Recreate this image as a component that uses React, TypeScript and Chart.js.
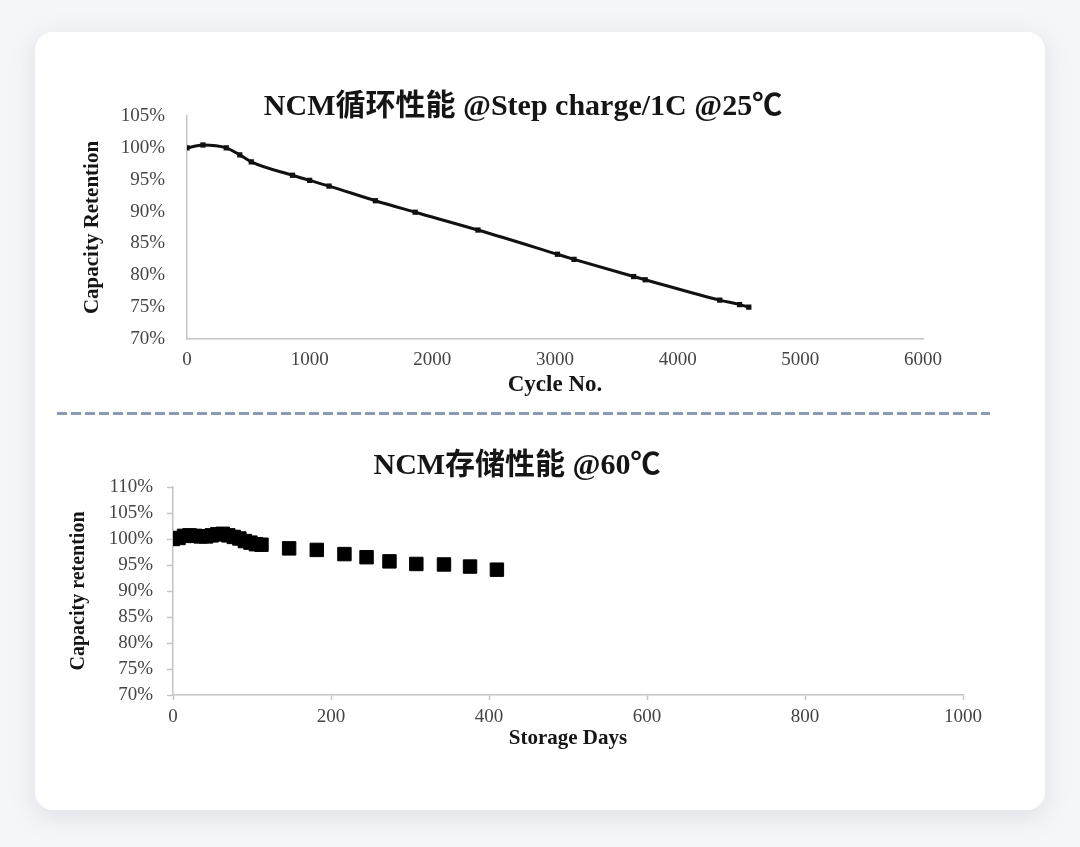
import React, { useEffect, useRef } from "react";
import { Chart, registerables } from "chart.js";

Chart.register(...registerables);

// ---------- data ----------
const cycleTitle = "NCM循环性能 @Step charge/1C @25℃";
const cycleAxisTitle = "Cycle No.";
const cycleYAxisTitle = "Capacity Retention";
const cycleNumbers = [0, 130, 320, 430, 524, 860, 1000, 1158, 1536, 1860, 2372, 3020, 3155, 3641, 3735, 4343, 4505, 4580];
const cycleRetention = [100.0, 100.45, 100.0, 98.9, 97.8, 95.7, 94.9, 94.0, 91.7, 89.9, 87.1, 83.3, 82.5, 79.8, 79.3, 76.1, 75.4, 75.0];

const storageTitle = "NCM存储性能 @60℃";
const storageAxisTitle = "Storage Days";
const storageYAxisTitle = "Capacity retention";
const storageDays = [0, 7, 14, 21, 28, 35, 42, 49, 56, 63, 70, 77, 84, 91, 98, 105, 112, 147, 182, 217, 245, 274, 308, 343, 376, 410];
const storageRetention = [100.0, 100.2, 100.6, 100.7, 100.6, 100.5, 100.5, 100.7, 100.9, 101.0, 100.7, 100.4, 100.1, 99.6, 99.3, 99.0, 98.9, 98.2, 97.9, 97.1, 96.5, 95.7, 95.2, 95.1, 94.7, 94.1];

const FONT = "'Liberation Serif', 'Times New Roman', 'Noto Sans CJK SC', serif";

const fixedTitle = {
  id: "fixedTitle",
  afterDraw(chart: any, _args: any, opts: any) {
    if (!opts || !opts.text) return;
    const ctx = chart.ctx;
    ctx.save();
    ctx.font = `bold ${opts.size}px ${FONT}`;
    ctx.fillStyle = opts.color || "#111";
    ctx.textAlign = "center";
    ctx.textBaseline = "middle";
    ctx.fillText(opts.text, opts.x, opts.y);
    ctx.restore();
  },
};

const plainNumber = (v: any) => String(v);

function CycleChart() {
  const ref = useRef<HTMLCanvasElement | null>(null);
  useEffect(() => {
    if (!ref.current) return;
    const chart = new Chart(ref.current, {
      type: "line",
      data: {
        datasets: [
          {
            data: cycleNumbers.map((c, i) => ({ x: c, y: cycleRetention[i] })),
            borderColor: "#111111",
            backgroundColor: "#111111",
            borderWidth: 3,
            pointRadius: 1.6,
            pointStyle: "rect",
            tension: 0.35,
            cubicInterpolationMode: "monotone",
            fill: false,
          },
        ],
      },
      options: {
        animation: false,
        responsive: false,
        maintainAspectRatio: false,
        layout: { padding: { top: 46, right: 117, bottom: 1, left: 0 } },
        plugins: {
          legend: { display: false },
          tooltip: { enabled: false },
          title: { display: false },
          fixedTitle: { text: cycleTitle, x: 483, y: 37, size: 30, color: "#151515" },
        } as any,
        scales: {
          x: {
            type: "linear",
            min: 0,
            max: 6000,
            afterFit: (s: any) => {
              s.height = 60;
            },
            grid: { display: false, drawTicks: false },
            border: { display: true, color: "#c4c4c4", width: 1.5 },
            ticks: {
              stepSize: 1000,
              padding: 10,
              color: "#444",
              font: { family: FONT, size: 19 },
              callback: plainNumber,
            },
            title: {
              display: true,
              text: cycleAxisTitle,
              color: "#151515",
              font: { family: FONT, size: 23, weight: "bold" },
              padding: { top: 0, bottom: 0 },
            },
          },
          y: {
            type: "linear",
            min: 70,
            max: 105,
            afterFit: (s: any) => {
              s.width = 147;
            },
            grid: { display: false, drawTicks: false },
            border: { display: true, color: "#c4c4c4", width: 1.5 },
            ticks: {
              stepSize: 5,
              padding: 22,
              color: "#444",
              font: { family: FONT, size: 19 },
              callback: (v: any) => `${v}%`,
            },
            title: {
              display: true,
              text: cycleYAxisTitle,
              color: "#151515",
              font: { family: FONT, size: 21, weight: "bold" },
              padding: { top: 40, bottom: 0 },
            },
          },
        },
      },
      plugins: [fixedTitle],
    } as any);
    return () => chart.destroy();
  }, []);
  return (
    <canvas
      ref={ref}
      width={1000}
      height={330}
      style={{ position: "absolute", left: 40, top: 70, width: 1000, height: 330 }}
    />
  );
}

function StorageChart() {
  const ref = useRef<HTMLCanvasElement | null>(null);
  useEffect(() => {
    if (!ref.current) return;
    const chart = new Chart(ref.current, {
      type: "scatter",
      data: {
        datasets: [
          {
            data: storageDays.map((d, i) => ({ x: d, y: storageRetention[i] })),
            borderColor: "#000000",
            backgroundColor: "#000000",
            borderWidth: 1,
            pointRadius: 9.5,
            pointStyle: "rect",
          },
        ],
      },
      options: {
        animation: false,
        responsive: false,
        maintainAspectRatio: false,
        layout: { padding: { top: 57, right: 67, bottom: 19, left: 0 } },
        plugins: {
          legend: { display: false },
          tooltip: { enabled: false },
          title: { display: false },
          fixedTitle: { text: storageTitle, x: 487, y: 36, size: 30, color: "#151515" },
        } as any,
        scales: {
          x: {
            type: "linear",
            min: 0,
            max: 1000,
            afterFit: (s: any) => {
              s.height = 56;
            },
            grid: { display: true, drawOnChartArea: false, drawTicks: true, tickLength: 5, tickColor: "#c4c4c4", tickWidth: 1.5 },
            border: { display: true, color: "#c4c4c4", width: 1.5 },
            ticks: {
              stepSize: 200,
              padding: 6,
              color: "#444",
              font: { family: FONT, size: 19 },
              callback: plainNumber,
            },
            title: {
              display: true,
              text: storageAxisTitle,
              color: "#151515",
              font: { family: FONT, size: 21, weight: "bold" },
              padding: { top: 0, bottom: 0 },
            },
          },
          y: {
            type: "linear",
            min: 70,
            max: 110,
            afterFit: (s: any) => {
              s.width = 143;
            },
            grid: { display: true, drawOnChartArea: false, drawTicks: true, tickLength: 6, tickColor: "#c4c4c4", tickWidth: 1.5 },
            border: { display: true, color: "#c4c4c4", width: 1.5 },
            ticks: {
              stepSize: 5,
              padding: 14,
              color: "#444",
              font: { family: FONT, size: 19 },
              callback: (v: any) => `${v}%`,
            },
            title: {
              display: true,
              text: storageYAxisTitle,
              color: "#151515",
              font: { family: FONT, size: 20, weight: "bold" },
              padding: { top: 37, bottom: 0 },
            },
          },
        },
      },
      plugins: [fixedTitle],
    } as any);
    return () => chart.destroy();
  }, []);
  return (
    <canvas
      ref={ref}
      width={1000}
      height={340}
      style={{ position: "absolute", left: 30, top: 430, width: 1000, height: 340 }}
    />
  );
}

export default function App() {
  return (
    <div
      style={{
        position: "fixed",
        left: 0,
        top: 0,
        width: 1080,
        height: 847,
        background: "#f5f6f8",
        overflow: "hidden",
      }}
    >
      <div
        style={{
          position: "absolute",
          left: 35,
          top: 32,
          width: 1010,
          height: 778,
          background: "#ffffff",
          borderRadius: 18,
          boxShadow: "0 6px 26px rgba(110, 120, 150, 0.18)",
        }}
      />
      <CycleChart />
      <div
        style={{
          position: "absolute",
          left: 57,
          top: 412,
          width: 933,
          height: 3,
          background:
            "repeating-linear-gradient(to right, #8d9cb5 0px, #8d9cb5 10px, transparent 10px, transparent 14px)",
        }}
      />
      <StorageChart />
    </div>
  );
}
